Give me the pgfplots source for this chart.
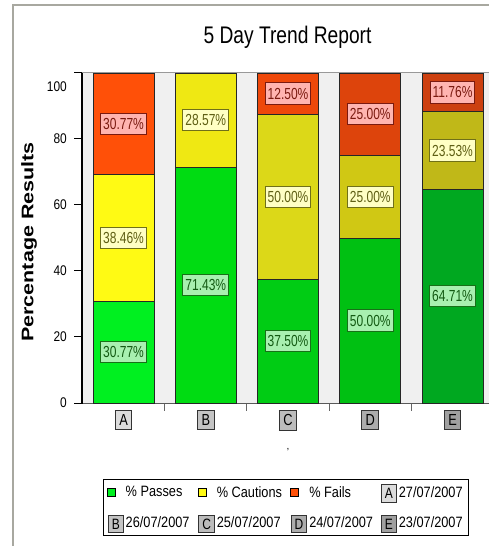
\documentclass[border=0pt]{standalone}
\usepackage{fontspec}
\setmainfont{Liberation Sans}
\usepackage{graphicx}
\usepackage{pgfplots}
\pgfplotsset{compat=1.18}

\definecolor{bgc}{HTML}{F0F0F0}
\definecolor{passA}{HTML}{00F020}
\definecolor{passB}{HTML}{00DC12}
\definecolor{passC}{HTML}{00CC14}
\definecolor{passD}{HTML}{00C012}
\definecolor{passE}{HTML}{00A820}
\definecolor{cauA}{HTML}{FFFA14}
\definecolor{cauB}{HTML}{EFE813}
\definecolor{cauC}{HTML}{DCD818}
\definecolor{cauD}{HTML}{D0C814}
\definecolor{cauE}{HTML}{C0B818}
\definecolor{failA}{HTML}{FF5008}
\definecolor{failC}{HTML}{EE480A}
\definecolor{failD}{HTML}{DD440C}
\definecolor{failE}{HTML}{CC4010}
\definecolor{lbFailFill}{HTML}{FFB4B0}
\definecolor{lbFailDraw}{HTML}{7A1A10}
\definecolor{lbCauFill}{HTML}{FFFFC4}
\definecolor{lbCauDraw}{HTML}{707018}
\definecolor{lbPassFill}{HTML}{A8F0B0}
\definecolor{lbPassDraw}{HTML}{187018}
\definecolor{boxA}{HTML}{DCDCDC}
\definecolor{boxB}{HTML}{C4C4C4}
\definecolor{boxC}{HTML}{BCBCBC}
\definecolor{boxD}{HTML}{ACACAC}
\definecolor{boxE}{HTML}{A0A0A0}
\definecolor{framec}{HTML}{A8A8A0}

\newcommand{\sx}[2][0.8]{\scalebox{#1}[1]{#2}}
\newcommand{\tlab}[2]{{\setlength{\fboxsep}{3.5bp}\setlength{\fboxrule}{1bp}\fcolorbox{black!80}{#1}{\sx[0.8]{\fontsize{16bp}{16bp}\selectfont #2}}}}
\newcommand{\lbox}[2]{{\setlength{\fboxsep}{3bp}\setlength{\fboxrule}{0.9bp}\fcolorbox{black!80}{#1}{\sx[0.8]{\fontsize{15bp}{15bp}\selectfont #2}}}}
\newcommand{\lgfont}{\fontsize{15bp}{17bp}\selectfont}

\begin{document}
\begin{tikzpicture}
\draw[framec, line width=2bp] (13bp,0bp) -- (13bp,541bp) -- (489bp,541bp);
\begin{axis}[
  at={(82bp,143bp)}, anchor=south west,
  scale only axis, width=407bp, height=330bp,
  xmin=-0.505, xmax=4.443, ymin=0, ymax=100,
  axis x line*=bottom, axis y line*=left,
  axis line style={-},
  x axis line style={black!65, line width=1bp},
  y axis line style={black, line width=1.2bp},
  axis background/.style={fill=bgc},
  /pgf/number format/assume math mode=true,
  tick align=outside,
  xtick={0.5,1.5,2.5,3.5}, xticklabels={},
  x tick style={black!60, line width=1bp},
  major tick length=8bp,
  extra x ticks={0,1,2,3,4},
  extra x tick labels={\tlab{boxA}{A},\tlab{boxB}{B},\tlab{boxC}{C},\tlab{boxD}{D},\tlab{boxE}{E}},
  extra x tick style={major tick length=0pt, xticklabel style={inner sep=0pt, anchor=north, yshift=-7bp}},
  ytick={0,20,40,60,80,100},
  yticklabels={\sx[0.85]{0},\sx[0.85]{20},\sx[0.85]{40},\sx[0.85]{60},\sx[0.85]{80},\raisebox{-19bp}[0pt][0pt]{\sx[0.85]{100}}},
  y tick style={black, line width=1bp},
  yticklabel style={font=\fontsize{14bp}{14bp}\selectfont, inner sep=0pt, xshift=-7bp},
  title={\sx[0.8]{\fontsize{24bp}{24bp}\selectfont 5 Day Trend Report}},
  title style={at={(axis description cs:0.505,1.070)}, anchor=base, inner sep=0pt},
  ylabel={\scalebox{1}[0.78]{\bfseries\fontsize{21.5bp}{22bp}\selectfont Percentage Results}},
  ylabel style={at={(axis description cs:-0.130,0.488)}, anchor=center, inner sep=0pt},
  xlabel={\fontsize{10bp}{10bp}\selectfont ,},
  xlabel style={at={(axis description cs:0.506,-0.142)}, anchor=center, inner sep=0pt},
  legend columns=4,
  legend cell align=left,
  legend style={at={(axis description cs:0.501,-0.3167)}, anchor=center,
    draw=black, line width=1bp, fill=white, font=\lgfont,
    inner xsep=4bp, inner ysep=5bp, row sep=14bp,
    /tikz/every even column/.append style={column sep=6bp}},
  mybar/.style={ybar, bar width=61bp, bar shift=0pt, draw=black!85, line width=0.8bp, forget plot},
  lab/.style={only marks, mark=*, mark options={draw=none, fill=none}, forget plot,
    point meta=explicit, nodes near coords align={center},
    nodes near coords={\sx[0.75]{\pgfmathprintnumber[fixed,fixed zerofill,precision=2]{\pgfplotspointmeta}\%}},
    every node near coord/.append style={anchor=center, font=\fontsize{16bp}{16bp}\selectfont,
      inner xsep=2.5bp, inner ysep=5bp, line width=1bp}},
]
% each segment drawn as a bar from 0 to its cumulative top
\addplot[mybar, fill=failA] coordinates {(0,100)};
\addplot[mybar, fill=cauA]  coordinates {(0,69.23)};
\addplot[mybar, fill=passA] coordinates {(0,30.77)};
\addplot[mybar, fill=cauB]  coordinates {(1,100)};
\addplot[mybar, fill=passB] coordinates {(1,71.43)};
\addplot[mybar, fill=failC] coordinates {(2,100)};
\addplot[mybar, fill=cauC]  coordinates {(2,87.50)};
\addplot[mybar, fill=passC] coordinates {(2,37.50)};
\addplot[mybar, fill=failD] coordinates {(3,100)};
\addplot[mybar, fill=cauD]  coordinates {(3,75.00)};
\addplot[mybar, fill=passD] coordinates {(3,50.00)};
\addplot[mybar, fill=failE] coordinates {(4,100)};
\addplot[mybar, fill=cauE]  coordinates {(4,88.24)};
\addplot[mybar, fill=passE] coordinates {(4,64.71)};
% value labels at the middle of each segment
\addplot[lab, every node near coord/.append style={draw=lbPassDraw, fill=lbPassFill, text=lbPassDraw!80!black}]
  coordinates {(0,15.385) [30.77] (1,35.715) [71.43] (2,18.75) [37.50] (3,25.00) [50.00] (4,32.355) [64.71]};
\addplot[lab, every node near coord/.append style={draw=lbCauDraw, fill=lbCauFill, text=lbCauDraw!85!black}]
  coordinates {(0,50.00) [38.46] (1,85.715) [28.57] (2,62.50) [50.00] (3,62.50) [25.00] (4,76.475) [23.53]};
\addplot[lab, every node near coord/.append style={draw=lbFailDraw, fill=lbFailFill, text=lbFailDraw}]
  coordinates {(0,84.615) [30.77] (2,93.75) [12.50] (3,87.50) [25.00] (4,94.12) [11.76]};
% decorations of the axes
\draw[black, line width=1.2bp] (axis description cs:0,0) -- ++(0bp,-40bp);
\draw[black!65, line width=1bp] (axis description cs:0,0) -- ++(-7bp,0bp);
\draw[black!40, line width=1bp] (axis description cs:0,1) ++(-7bp,0bp) -- (axis description cs:1,1);
% legend
\addlegendimage{legend image code/.code={\draw[black, line width=0.6bp, fill=passA] (0bp,-4bp) rectangle (8bp,4bp);}}
\addlegendentry{\sx[0.85]{\% Passes}}
\addlegendimage{legend image code/.code={\draw[black, line width=0.6bp, fill=cauA] (0bp,-4bp) rectangle (8bp,4bp);}}
\addlegendentry{\sx[0.85]{\% Cautions}}
\addlegendimage{legend image code/.code={\draw[black, line width=0.6bp, fill=failA] (0bp,-4bp) rectangle (8bp,4bp);}}
\addlegendentry{\sx[0.85]{\% Fails}}
\addlegendimage{legend image code/.code={\node[inner sep=0pt, anchor=west] at (0bp,0bp) {\lbox{boxA}{A}};}}
\addlegendentry{\sx[0.85]{27/07/2007}}
\addlegendimage{legend image code/.code={\node[inner sep=0pt, anchor=west] at (0bp,0bp) {\lbox{boxB}{B}};}}
\addlegendentry{\sx[0.85]{26/07/2007}}
\addlegendimage{legend image code/.code={\node[inner sep=0pt, anchor=west] at (0bp,0bp) {\lbox{boxC}{C}};}}
\addlegendentry{\sx[0.85]{25/07/2007}}
\addlegendimage{legend image code/.code={\node[inner sep=0pt, anchor=west] at (0bp,0bp) {\lbox{boxD}{D}};}}
\addlegendentry{\sx[0.85]{24/07/2007}}
\addlegendimage{legend image code/.code={\node[inner sep=0pt, anchor=west] at (0bp,0bp) {\lbox{boxE}{E}};}}
\addlegendentry{\sx[0.85]{23/07/2007}}
\end{axis}
\pgfresetboundingbox
\path[use as bounding box] (0bp,0bp) rectangle (489bp,546bp);
\end{tikzpicture}
\end{document}
